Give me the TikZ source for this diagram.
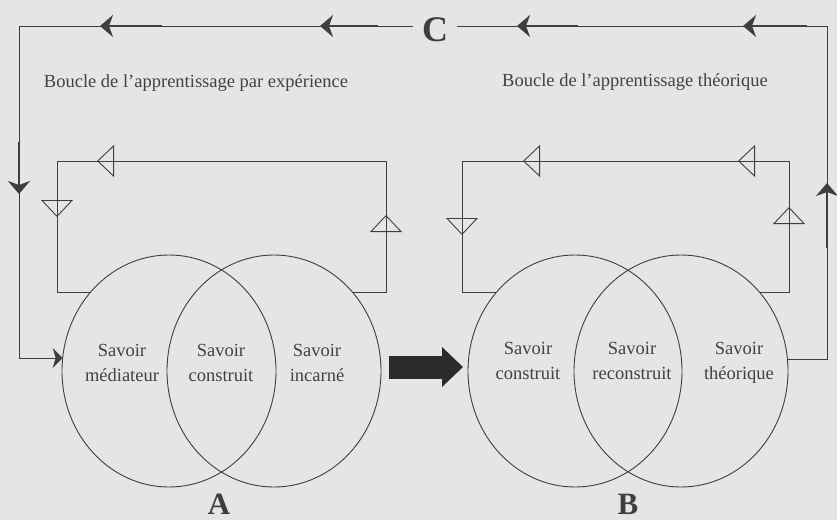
\documentclass[tikz,border=0pt]{standalone}
\usepackage{fontspec}
\setmainfont{Liberation Serif}
\usetikzlibrary{positioning}
\usetikzlibrary{calc}
\usetikzlibrary{arrows.meta}
\usetikzlibrary{shapes.geometric}

\definecolor{fond}{RGB}{229,229,229}
\definecolor{trait}{RGB}{62,62,62}
\definecolor{texte}{RGB}{66,66,66}

\tikzset{
  cercle/.style={ellipse, draw=trait, line width=0.9pt, minimum width=214pt, minimum height=232pt, inner sep=0pt, outer sep=0pt},
  savoir/.style={font=\fontsize{18.5}{24.5}\selectfont, text=texte, align=center, anchor=base},
  boucle/.style={font=\fontsize{18.5}{22}\selectfont, text=texte, anchor=base},
  lettre/.style={font=\bfseries\fontsize{#1}{#1}\selectfont, text=trait, inner sep=0pt},
  lettre/.default=31,
  ligne/.style={draw=trait, line width=0.9pt},
  pointe/.style={draw=trait, line width=1.8pt, -{Stealth[length=13pt, width=22pt, inset=4pt]}},
  ouverte/.style={draw=trait, line width=0.9pt, -{Triangle[open, length=17pt, width=32pt]}},
  grosse/.style={draw=trait!70!black, line width=23pt, -{Triangle[length=21pt, width=40pt, line width=0pt]}}
}

\begin{document}
\begin{tikzpicture}[x=1pt, y=-1pt]
  \fill[fond] (0,0) rectangle (837,520);
  \useasboundingbox (0,0) rectangle (837,520);

  % cercles A et B
  \node[cercle] (aL) at (169,371) {};
  \node[cercle] (aR) at (274,371) {};
  \node[cercle] (bL) at (575,371) {};
  \node[cercle] (bR) at (681,371) {};

  \node[savoir] (aMed) at (122,381) {Savoir\\médiateur};
  \node[savoir] (aCon) at (221,381) {Savoir\\construit};
  \node[savoir] (aInc) at (317,381) {Savoir\\incarné};
  \node[savoir] (bCon) at (528,379) {Savoir\\construit};
  \node[savoir] (bRec) at (632,379) {Savoir\\reconstruit};
  \node[savoir] (bThe) at (739,379) {Savoir\\théorique};

  \node[lettre] (A) at (219,504) {A};
  \node[lettre] (B) at (628,504) {B};
  \node[lettre=36, inner sep=9pt] (C) at (435,30) {C};

  \node[boucle] (expe) at (196,87) {Boucle de l'apprentissage par expérience};
  \node[boucle] (theo) at (635,86) {Boucle de l'apprentissage théorique};

  % grande boucle C
  \coordinate (hautG) at (19,26);
  \coordinate (hautD) at (827,26);
  \draw[ligne, -{Stealth[length=10pt, width=20pt, inset=3pt]}] (C.west |- hautG) -- (hautG) |- (aL.173);
  \draw[ligne] (bR.6) -| (hautD) -- (C.east |- hautD);
  \foreach \bout/\queue in {100/162, 320/378, 517/578, 743/807}
    \draw[pointe] (\queue,26) -- (\bout,26);
  \draw[pointe] (19,142) -- (19,194);
  \draw[pointe] (827,248) -- (827,183);

  % petites boucles
  \coordinate (aHG) at (57,161);
  \coordinate (aHD) at (386,161);
  \coordinate (bHG) at (462,161);
  \coordinate (bHD) at (789,161);
  \draw[ligne] (aL.135) -| (aHG) -- (aHD) |- (aR.45);
  \draw[ligne] (bL.135) -| (bHG) -- (bHD) |- (bR.45);
  \foreach \x/\de/\vers in {57/185/217, 462/200/235, 386/250/215, 789/240/207}
    \draw[ouverte] (\x,\de) -- (\x,\vers);
  \foreach \de/\vers in {135/97, 560/523, 775/738}
    \draw[ouverte] (\de,161) -- (\vers,161);

  % passage de A vers B
  \draw[grosse] ([xshift=8pt, yshift=4pt]aR.east) -- ([xshift=-5pt, yshift=4pt]bL.west);
\end{tikzpicture}
\end{document}
